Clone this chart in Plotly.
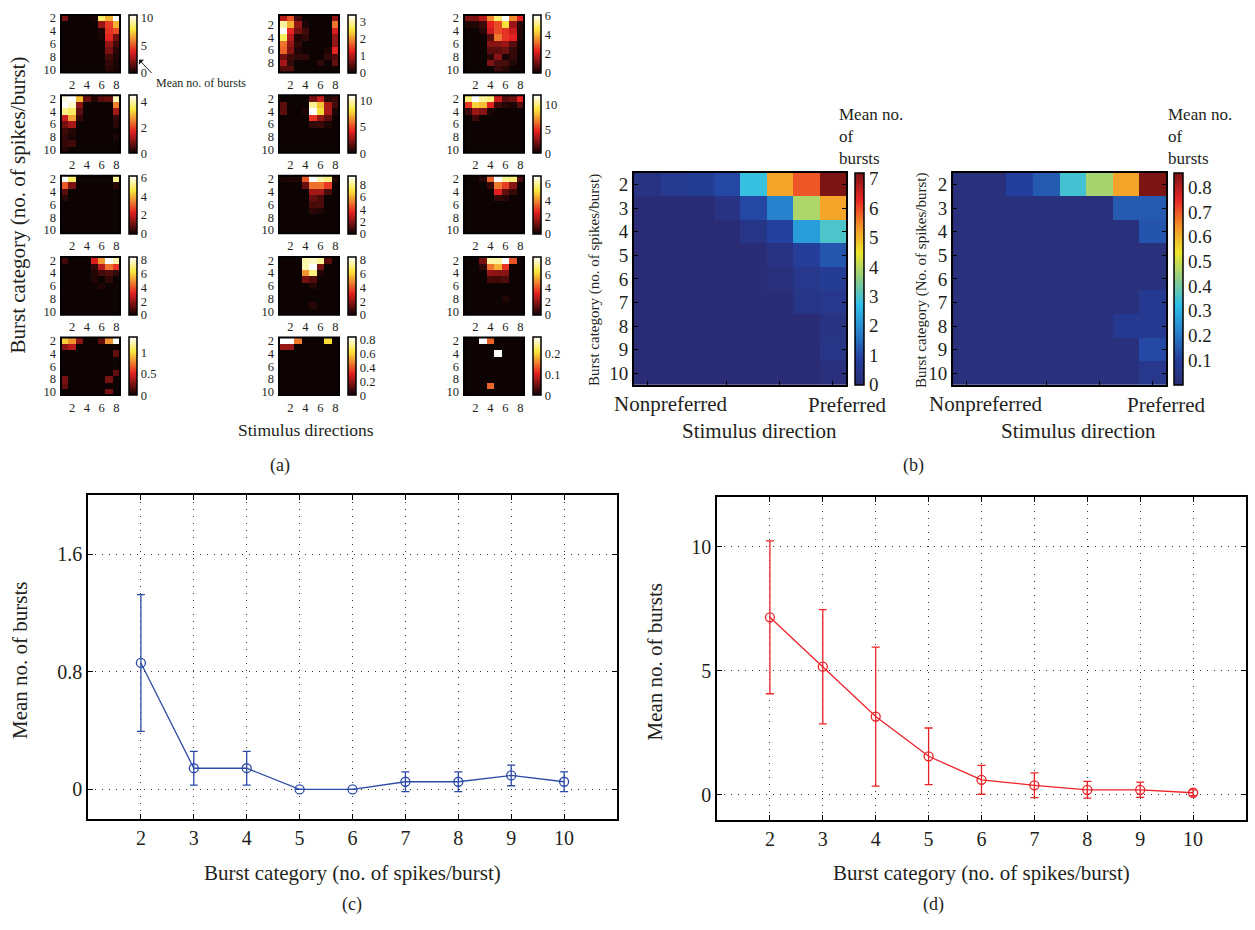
import plotly.graph_objects as go

W, H = 1255, 930
FONT = "Liberation Serif"
TXT = "#231f20"

# ---------------- DATA ----------------
directions = [1, 2, 3, 4, 5, 6, 7, 8]
burst_cats = [2, 3, 4, 5, 6, 7, 8, 9, 10]
burst_cats_alt = [1, 2, 3, 4, 5, 6, 7, 8, 9]
Z0 = [0, 0, 0, 0, 0, 0, 0, 0]

# panel (a): 15 example cells, rows = burst category, cols = direction
a_r1c1 = [[2.0, 0, 0, 0, 0.2, 8.5, 6.8, 10.5],
          [0, 0, 0, 0, 0, 2.5, 4.5, 6.8],
          [0, 0, 0, 0, 0, 0.3, 4.3, 4.8],
          [0, 0, 0, 0, 0, 0.2, 4.0, 1.8],
          [0, 0, 0, 0, 0, 0, 2.5, 1.0],
          [0, 0, 0, 0, 0, 0, 2.0, 0.5],
          [0, 0, 0, 0, 0, 0, 1.0, 0.3],
          [0, 0, 0, 0, 0, 0, 0.7, 0.2],
          [0, 0, 0, 0, 0, 0, 0.5, 0.2]]
a_r1c2 = [[1.0, 1.6, 0.3, 0, 0, 0, 0, 0.8],
          [3.0, 2.2, 0.8, 0.1, 0, 0, 0, 1.8],
          [3.4, 1.3, 0.6, 0.3, 0, 0, 0, 1.2],
          [2.7, 1.0, 0.1, 0.2, 0, 0, 0, 0.8],
          [1.8, 0.8, 0.2, 0, 0, 0, 0, 0.8],
          [1.7, 0.7, 0.1, 0, 0, 0, 0.1, 1.3],
          [0.6, 0.3, 0.2, 0.2, 0, 0, 0.2, 0.4],
          [0.9, 0.2, 0, 0, 0, 0.2, 0, 0.5],
          [0.4, 0.4, 0, 0, 0, 0, 0, 0]]
a_r1c3 = [[1.2, 1.2, 1.8, 3.5, 5.0, 6.1, 3.5, 2.3],
          [0.2, 0.2, 0.5, 2.3, 2.8, 4.5, 1.5, 0.3],
          [0, 0, 0.3, 2.0, 2.8, 2.5, 2.0, 0.2],
          [0, 0, 0, 0.8, 3.3, 2.5, 2.3, 0.2],
          [0, 0, 0, 1.3, 1.3, 1.5, 0.8, 0],
          [0, 0, 0, 0.8, 0.8, 1.0, 0.4, 0],
          [0, 0, 0, 0.3, 1.3, 0.1, 0.4, 0],
          [0, 0, 0, 1.2, 0.6, 0.6, 0.2, 0],
          [0, 0, 0, 0, 0.5, 0.3, 0, 0]]
a_r2c1 = [[4.3, 4.5, 3.0, 0.7, 0.2, 0.6, 0.7, 4.1],
          [4.5, 4.2, 1.0, 0, 0, 0, 0, 2.5],
          [3.8, 3.6, 0.6, 0, 0, 0, 0, 1.2],
          [1.5, 2.8, 0.3, 0, 0, 0, 0, 0.3],
          [0.8, 1.2, 0, 0, 0, 0, 0, 0.2],
          [0.4, 0.2, 0, 0, 0, 0, 0, 0],
          [0.3, 0.1, 0, 0, 0, 0, 0, 0.1],
          [0.3, 0.4, 0, 0, 0, 0, 0, 0],
          [0.2, 0, 0, 0, 0, 0, 0, 0]]
a_r2c2 = [[0, 0, 0, 0, 2.0, 3.5, 0.5, 0.8],
          [1.5, 0, 0, 0, 9.5, 7.5, 3.0, 1.0],
          [1.5, 0, 0, 0.3, 11.0, 8.0, 3.0, 0.3],
          [0, 0, 0, 0, 4.5, 2.5, 1.5, 0],
          [0, 0, 0, 0, 0.7, 0.8, 0.3, 0],
          Z0, Z0, Z0, Z0]
a_r2c3 = [[10.0, 12.0, 10.5, 10.0, 4.0, 1.5, 2.0, 4.5],
          [5.0, 8.5, 8.0, 4.5, 1.0, 0.5, 0.3, 1.5],
          [1.0, 3.0, 2.5, 0.3, 0, 0, 0, 0],
          [0, 1.0, 0, 0, 0, 0, 0, 0],
          Z0, Z0, Z0, Z0, Z0]
a_r3c1 = [[6.2, 5.0, 0, 0, 0, 0, 0, 5.3],
          [3.0, 1.2, 0, 0, 0, 0, 0, 0.3],
          [0.8, 0, 0, 0, 0, 0, 0, 0],
          [0.3, 0, 0, 0, 0, 0, 0, 0],
          Z0, Z0, Z0, Z0, Z0]
a_r3c2 = [[0.2, 0.3, 0.3, 4.5, 9.5, 8.5, 8.0, 0.3],
          [0, 0, 0, 1.5, 5.0, 5.0, 4.0, 0],
          [0, 0, 0, 0, 2.5, 2.5, 1.0, 0],
          [0, 0, 0, 0, 1.5, 1.0, 0, 0],
          [0, 0, 0, 0, 1.0, 1.0, 0, 0],
          [0, 0, 0, 0, 0.5, 0.3, 0, 0],
          Z0, Z0, Z0]
a_r3c3 = [[0, 0, 0.3, 3.5, 7.0, 6.0, 5.8, 0.8],
          [0, 0, 0, 0.5, 3.8, 3.0, 1.5, 0],
          [0, 0, 0, 0, 2.6, 1.0, 0.5, 0],
          [0, 0, 0, 0, 0.5, 0.3, 0, 0],
          Z0, Z0, Z0, Z0, Z0]
a_r4c1 = [[0.8, 0, 0, 0, 3.0, 5.0, 8.4, 7.5],
          [0, 0, 0, 0, 0.5, 2.5, 4.5, 3.5],
          [0, 0, 0, 0, 0.3, 0.8, 1.0, 0.5],
          [0, 0, 0, 0, 0.3, 0, 0.5, 0],
          [0, 0, 0, 0, 0, 0.3, 0, 0],
          Z0, Z0, Z0, Z0]
a_r4c2 = [[0, 0, 0, 7.5, 7.8, 7.3, 1.0, 0],
          [0, 0, 0, 7.5, 8.4, 1.5, 0, 0],
          [0, 0, 0, 5.0, 7.0, 0.3, 0, 0],
          [0, 0, 0, 1.5, 1.0, 0, 0, 0],
          [0, 0, 0, 0, 0.3, 0, 0, 0],
          Z0, Z0,
          [0, 0, 0, 0, 0.4, 0, 0, 0],
          Z0]
a_r4c3 = [[0, 0, 1.5, 7.5, 7.5, 8.5, 4.0, 0],
          [0, 0, 0.5, 4.5, 5.5, 3.5, 0, 0],
          [0, 0, 0, 2.0, 1.8, 1.8, 0, 0],
          [0, 0, 0, 0.8, 0.8, 1.0, 0, 0],
          Z0, Z0,
          [0, 0, 0, 0, 0, 0.3, 0, 0],
          Z0, Z0]
a_r5c1 = [[0.95, 0.8, 0.3, 0, 0, 0.2, 0.8, 1.35],
          [0.3, 0.4, 0, 0, 0, 0, 0, 0],
          [0, 0, 0, 0, 0, 0, 0, 0.2],
          Z0, Z0,
          [0, 0, 0, 0, 0, 0, 0, 0.2],
          [0.25, 0, 0, 0, 0, 0, 0.25, 0],
          [0.2, 0, 0, 0, 0, 0, 0, 0],
          [0, 0, 0, 0, 0, 0, 0.25, 0]]
a_r5c2 = [[0.83, 0.83, 0.45, 0, 0, 0, 0.6, 0],
          [0.2, 0.2, 0, 0, 0, 0, 0, 0],
          Z0, Z0, Z0, Z0, Z0, Z0, Z0]
a_r5c3 = [[0, 0, 0.28, 0.14, 0, 0, 0, 0],
          Z0,
          [0, 0, 0, 0, 0.28, 0, 0, 0],
          Z0, Z0, Z0, Z0,
          [0, 0, 0, 0.14, 0, 0, 0, 0],
          Z0]

# colour-bar maxima and ticks of panel (a)
a_zmax = [[10.5, 3.4, 6.1], [4.5, 11.0, 12.0], [6.2, 9.5, 7.0], [8.4, 8.4, 8.5], [1.35, 0.83, 0.28]]
a_ticks = [[[0, 5, 10], [0, 1, 2, 3], [0, 2, 4, 6]],
           [[0, 2, 4], [0, 5, 10], [0, 5, 10]],
           [[0, 2, 4, 6], [0, 2, 4, 6, 8], [0, 2, 4, 6]],
           [[0, 2, 4, 6, 8], [0, 2, 4, 6, 8], [0, 2, 4, 6, 8]],
           [[0, 0.5, 1], [0, 0.2, 0.4, 0.6, 0.8], [0, 0.1, 0.2]]]
a_mats = [[a_r1c1, a_r1c2, a_r1c3], [a_r2c1, a_r2c2, a_r2c3], [a_r3c1, a_r3c2, a_r3c3],
          [a_r4c1, a_r4c2, a_r4c3], [a_r5c1, a_r5c2, a_r5c3]]

# panel (b): population averages
b_left = [[0.3, 0.6, 0.7, 1.0, 2.8, 5.2, 5.9, 7.2],
          [0, 0, 0, 0.3, 1.0, 1.8, 3.9, 5.2],
          [0, 0, 0, 0, 0.4, 0.9, 2.2, 3.0],
          [0, 0, 0, 0, 0, 0.3, 0.8, 1.2],
          [0, 0, 0, 0, 0, 0.15, 0.5, 0.7],
          [0, 0, 0, 0, 0, 0, 0.4, 0.5],
          [0, 0, 0, 0, 0, 0, 0, 0.3],
          [0, 0, 0, 0, 0, 0, 0, 0.4],
          [0, 0, 0, 0, 0, 0, 0, 0.1]]
b_right = [[0.02, 0.02, 0.1, 0.15, 0.35, 0.46, 0.62, 0.86],
           [0.02, 0.02, 0.02, 0.02, 0.02, 0.02, 0.15, 0.15],
           [0.02, 0.02, 0.02, 0.02, 0.02, 0.02, 0.02, 0.14],
           [0.02, 0.02, 0.02, 0.02, 0.02, 0.02, 0.02, 0.02],
           [0.02, 0.02, 0.02, 0.02, 0.02, 0.02, 0.02, 0.02],
           [0.02, 0.02, 0.02, 0.02, 0.02, 0.02, 0.02, 0.07],
           [0.02, 0.02, 0.02, 0.02, 0.02, 0.02, 0.07, 0.07],
           [0.02, 0.02, 0.02, 0.02, 0.02, 0.02, 0.02, 0.12],
           [0.02, 0.02, 0.02, 0.02, 0.02, 0.02, 0.02, 0.06]]
b_left_ticks = [0, 1, 2, 3, 4, 5, 6, 7]
b_right_ticks = [0.1, 0.2, 0.3, 0.4, 0.5, 0.6, 0.7, 0.8]

# panels (c) and (d)
c_x = [2, 3, 4, 5, 6, 7, 8, 9, 10]
c_mean = [0.86, 0.144, 0.144, 0.0, 0.0, 0.052, 0.052, 0.095, 0.052]
c_err = [0.465, 0.115, 0.115, 0.0, 0.0, 0.067, 0.067, 0.07, 0.067]
d_mean = [7.16, 5.17, 3.16, 1.56, 0.61, 0.39, 0.21, 0.21, 0.09]
d_err = [3.08, 2.3, 2.8, 1.14, 0.58, 0.5, 0.34, 0.31, 0.12]

# ---------------- STYLE ----------------
HOT_ZERO = "rgb(14,3,3)"
HOT = [[0.0, HOT_ZERO], [0.375, "rgb(228,32,32)"], [0.75, "rgb(250,232,60)"], [1.0, "rgb(255,255,255)"]]
JET = [[0.0, "rgb(42,45,117)"], [0.125, "rgb(36,64,158)"], [0.25, "rgb(38,130,205)"],
       [0.375, "rgb(45,190,235)"], [0.5, "rgb(140,205,135)"], [0.625, "rgb(238,230,45)"],
       [0.75, "rgb(245,145,40)"], [0.875, "rgb(230,38,38)"], [1.0, "rgb(125,20,20)"]]

fig = go.Figure()
layout = dict(width=W, height=H, margin=dict(l=0, r=0, t=0, b=0), paper_bgcolor="white",
              plot_bgcolor="white", showlegend=False, font=dict(family=FONT, color=TXT))
ann = []
shapes = []
counter = [0]


def new_axes(x0, x1, y0, y1, xa, ya):
    counter[0] += 1
    i = counter[0]
    s = "" if i == 1 else str(i)
    layout["xaxis" + s] = dict(domain=[x0 / W, x1 / W], anchor="y" + s, **xa)
    layout["yaxis" + s] = dict(domain=[1 - y1 / H, 1 - y0 / H], anchor="x" + s, **ya)
    return "x" + s, "y" + s


def text(x, y, t, size, angle=0, xanchor="center", yanchor="middle", align="center"):
    ann.append(dict(x=x / W, y=1 - y / H, xref="paper", yref="paper", text=t, showarrow=False,
                    textangle=angle, xanchor=xanchor, yanchor=yanchor, align=align,
                    font=dict(family=FONT, size=size, color=TXT)))


def colorbar(x, top, h, thick, ticks, size):
    return dict(x=x / W, xanchor="left", y=1 - top / H, yanchor="top", len=h / H, lenmode="fraction",
                thickness=thick, thicknessmode="pixels", xpad=0, ypad=0, outlinewidth=1.5,
                outlinecolor="black", tickvals=ticks, tickfont=dict(family=FONT, size=size, color=TXT),
                ticks="")


# ---- panel (a)
col_x = [(61, 120, 129), (279, 339, 348), (464, 524, 533)]
row_top = [12, 93, 174, 256, 337]
hh = 58
for r in range(5):
    for c in range(3):
        x0, x1, cbx = col_x[c]
        y0 = row_top[r]
        alt = (r == 0 and c == 1)
        rows = burst_cats_alt if alt else burst_cats
        yrng = [9.5, 0.5] if alt else [10.5, 1.5]
        ytv = [2, 4, 6, 8] if alt else [2, 4, 6, 8, 10]
        xa = dict(range=[0.5, 8.5], tickvals=[2, 4, 6, 8], showline=False, showgrid=False, zeroline=False,
                  ticks="", ticklabelstandoff=3, tickfont=dict(family=FONT, size=12.5, color=TXT))
        ya = dict(range=yrng, tickvals=ytv, showline=False, showgrid=False, zeroline=False, ticks="",
                  ticklabelstandoff=4, tickfont=dict(family=FONT, size=12.5, color=TXT))
        xr, yr = new_axes(x0, x1, y0, y0 + hh, xa, ya)
        shapes.append(dict(type="rect", xref=xr + " domain", yref=yr + " domain", x0=0, x1=1, y0=0, y1=1,
                           fillcolor=HOT_ZERO, line=dict(width=0), layer="below"))
        shapes.append(dict(type="rect", xref=xr + " domain", yref=yr + " domain", x0=0, x1=1, y0=0, y1=1,
                           fillcolor="rgba(0,0,0,0)", line=dict(width=2, color="black"), layer="above"))
        fig.add_trace(go.Heatmap(z=a_mats[r][c], x=directions, y=rows, zmin=0, zmax=a_zmax[r][c],
                                 colorscale=HOT, xaxis=xr, yaxis=yr, hoverinfo="skip",
                                 colorbar=colorbar(cbx, y0, hh, 8, a_ticks[r][c], 12.5)))

text(306, 430, "Stimulus directions", 17.5)
text(18, 204, "Burst category (no. of spikes/burst)", 21, angle=-90)
text(154, 81, "Mean no. of bursts", 12, xanchor="left")
ann.append(dict(x=139 / W, y=1 - 57 / H, xref="paper", yref="paper", ax=14, ay=15,
                text="", showarrow=True, arrowhead=1, arrowsize=1.2,
                arrowwidth=1, arrowcolor=TXT))
text(280, 466, "(a)", 18)

# ---- panel (b)
for (x0, x1, cbx, z, zmax, tks, ytitle, tcx, npx, px_, lx) in [
        (634, 846, 855, b_left, 7.2, b_left_ticks, "Burst category (no. of spikes/burst)", 595, 671, 847, 837),
        (953, 1166, 1174, b_right, 0.86, b_right_ticks, "Burst category (No. of spikes/burst)", 922, 986, 1166, 1166)]:
    xa = dict(range=[0.5, 8.5], tickvals=[1, 4, 6, 8], showticklabels=False, ticks="inside", ticklen=4,
              tickcolor="black", showline=True, mirror=True, linecolor="black", linewidth=2,
              showgrid=False, zeroline=False)
    ya = dict(range=[10.5, 1.5], tickvals=burst_cats, ticks="inside", ticklen=4, tickcolor="black",
              showline=True, mirror="ticks", linecolor="black", linewidth=2, showgrid=False,
              zeroline=False, tickfont=dict(family=FONT, size=19, color=TXT))
    xr, yr = new_axes(x0, x1, 171, 385, xa, ya)
    fig.add_trace(go.Heatmap(z=z, x=directions, y=burst_cats, zmin=0, zmax=zmax, colorscale=JET,
                             xaxis=xr, yaxis=yr, hoverinfo="skip",
                             colorbar=colorbar(cbx, 171, 214, 9, tks, 19)))
    text(tcx, 279, ytitle, 15, angle=-90)
    text(npx, 404, "Nonpreferred", 21)
    text(px_, 405, "Preferred", 21)
    text((x0 + x1) / 2 + 19, 431, "Stimulus direction", 21)
    text(lx, 168, "Mean no.<br>of<br>bursts", 17, xanchor="left", yanchor="bottom", align="left")
text(913, 466, "(b)", 18)

# ---- panels (c) and (d)
for (x0, x1, y0, y1, mean, err, col, yrng, ytv, ytl, ttx, lab, labx) in [
        (88, 617, 496, 822, c_mean, c_err, "rgb(45,75,165)", [-0.2, 2.0], [0, 0.8, 1.6], ["0", "0.8", "1.6"], 20, "(c)", 352),
        (717, 1246, 498, 823, d_mean, d_err, "rgb(235,35,40)", [-1, 12], [0, 5, 10], ["0", "5", "10"], 655, "(d)", 933)]:
    common = dict(showline=True, mirror="ticks", linecolor="black", linewidth=1.5, ticks="inside",
                  ticklen=5, tickcolor="black", showgrid=True, gridcolor="#333",
                  griddash="1px,6px", gridwidth=1.2, zeroline=False,
                  tickfont=dict(family=FONT, size=20, color=TXT))
    xa = dict(range=[1, 11], tickvals=c_x, **common)
    ya = dict(range=yrng, tickvals=ytv, ticktext=ytl, **common)
    xr, yr = new_axes(x0, x1, y0, y1, xa, ya)
    fig.add_trace(go.Scatter(x=c_x, y=mean, mode="lines+markers", xaxis=xr, yaxis=yr,
                             line=dict(color=col, width=1.3),
                             marker=dict(symbol="circle-open", size=9, color=col, line=dict(width=1.3)),
                             error_y=dict(type="data", array=err, visible=True, color=col, thickness=1.3,
                                          width=4), hoverinfo="skip"))
    text((x0 + x1) / 2, 877, "Burst category (no. of spikes/burst)", 21)
    text(ttx, (y0 + y1) / 2 + 4, "Mean no. of bursts", 21, angle=-90)
    text(labx, 908, lab, 18)

layout["annotations"] = ann
layout["shapes"] = shapes
fig.update_layout(**layout)
fig.write_html("out.html")
